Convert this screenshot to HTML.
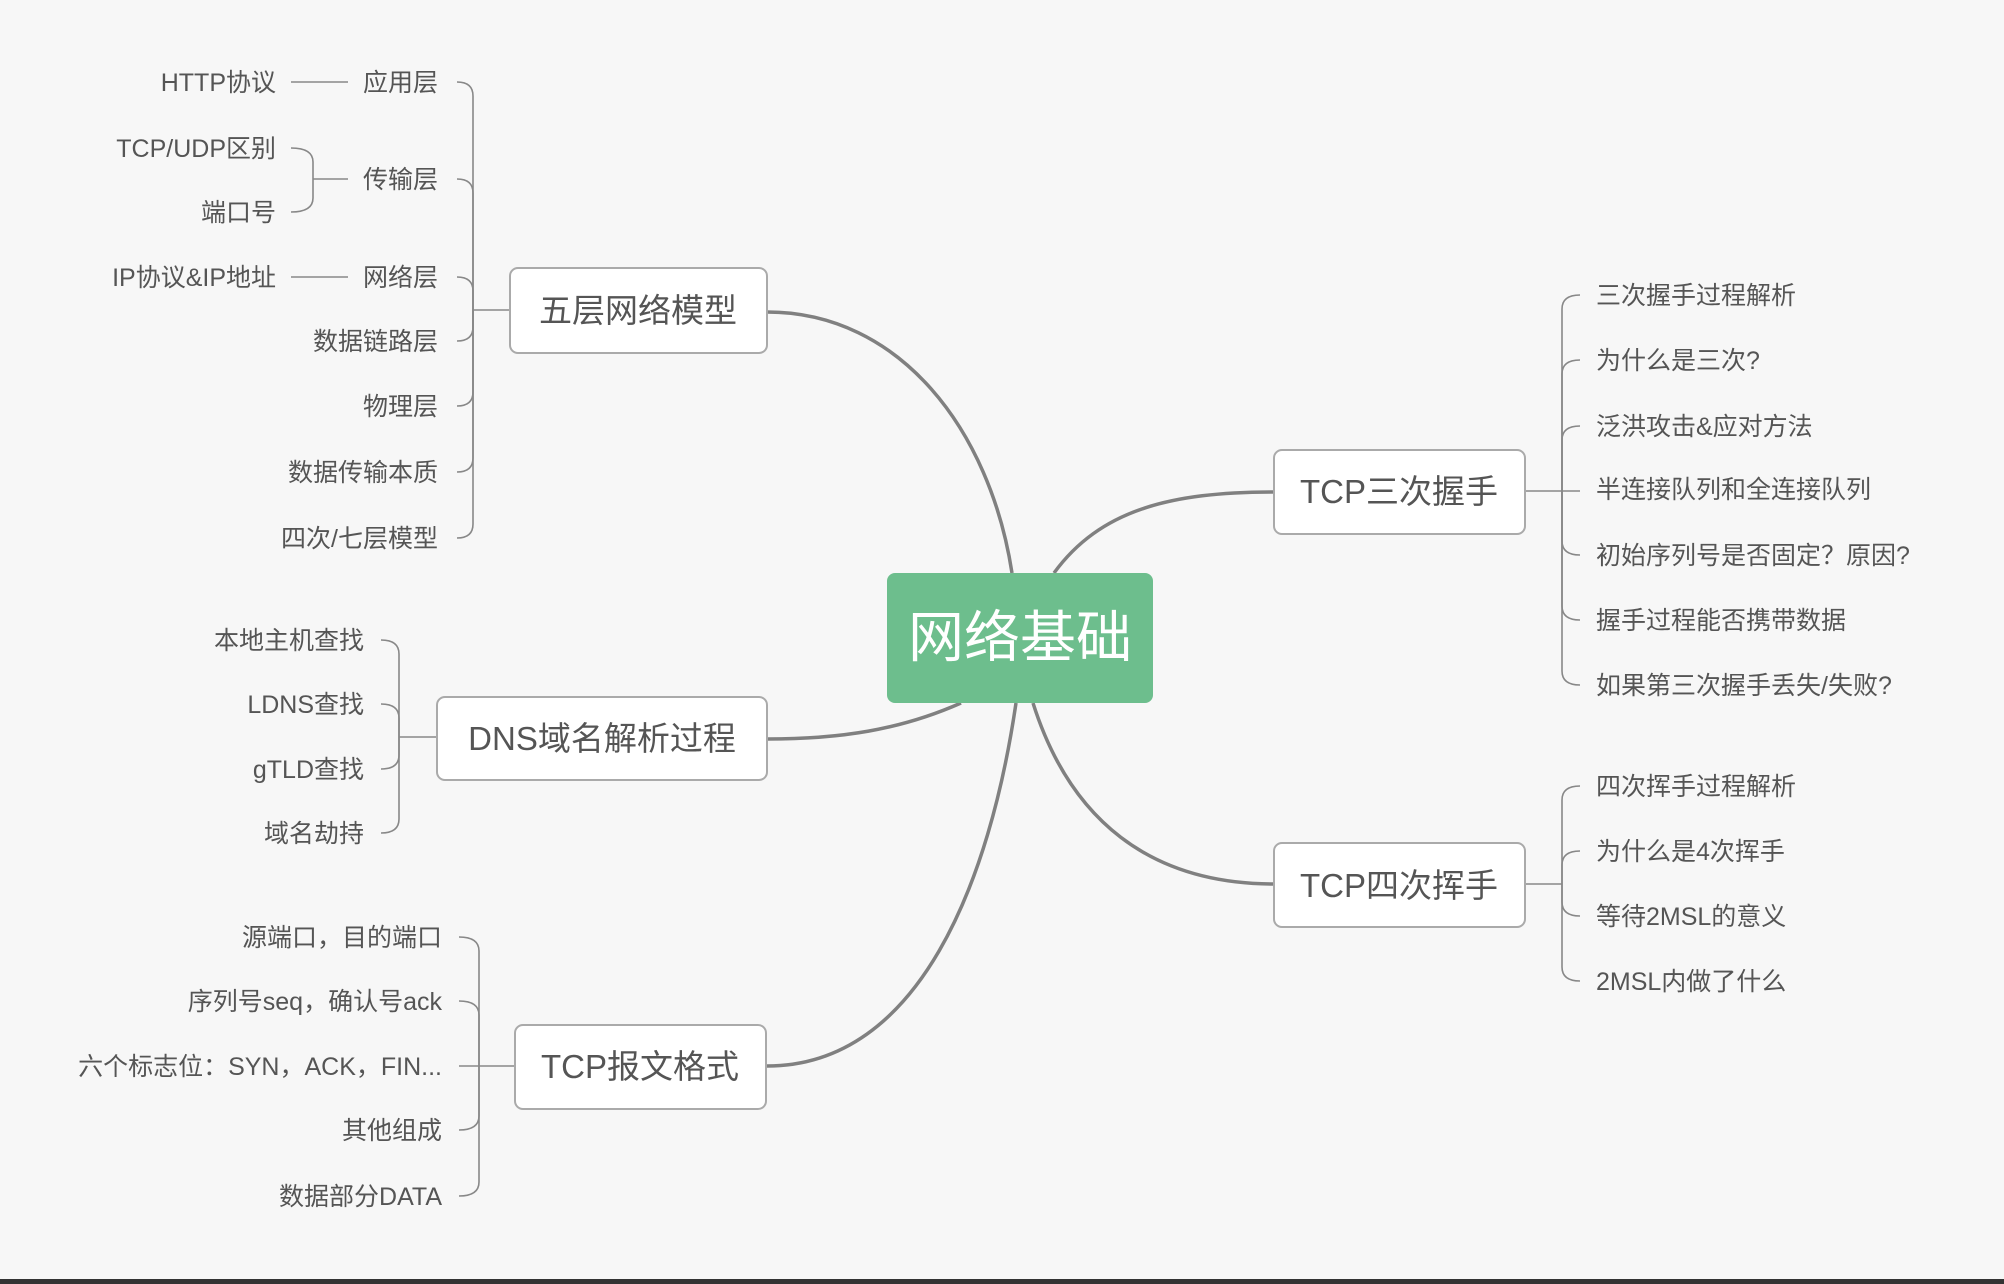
<!DOCTYPE html>
<html><head><meta charset="utf-8"><style>
html,body{margin:0;padding:0;background:#f7f7f7;}
svg{display:block}
text{font-family:"Liberation Sans","Noto Sans CJK SC",sans-serif;fill:#555;}
</style></head><body>
<svg width="2004" height="1284" viewBox="0 0 2004 1284" xmlns="http://www.w3.org/2000/svg">
<rect x="0" y="0" width="2004" height="1284" fill="#f7f7f7"/>
<rect x="0" y="1279" width="2004" height="5" fill="#333"/>
<g fill="none" stroke="#808080" stroke-width="3.5">
<path d="M1012 573 C990 430 900 312 767 312"/>
<path d="M1054 573 C1100 510 1170 492 1274 492"/>
<path d="M1033 703 C1070 820 1150 884 1274 884"/>
<path d="M961 703 C900 730 840 739 767 739"/>
<path d="M1016 703 C990 880 920 1066 767 1066"/>
</g>
<g fill="none" stroke="#888" stroke-width="1.6">
<!-- five layer -->
<path d="M510 310 H473"/>
<path d="M473 310 V96 Q473 82 457 82"/>
<path d="M473 310 V193 Q473 179 457 179"/>
<path d="M473 310 V291 Q473 277 457 277"/>
<path d="M473 310 V327 Q473 341 457 341"/>
<path d="M473 310 V392 Q473 406 457 406"/>
<path d="M473 310 V458 Q473 472 457 472"/>
<path d="M473 310 V524 Q473 538 457 538"/>
<path d="M291 82 H348"/>
<path d="M291 277 H348"/>
<path d="M348 179 H313"/>
<path d="M313 179 V162 Q313 148 291 148"/>
<path d="M313 179 V198 Q313 212 291 212"/>
<!-- DNS -->
<path d="M437 737 H399"/>
<path d="M399 737 V654 Q399 640 381 640"/>
<path d="M399 737 V718 Q399 704 381 704"/>
<path d="M399 737 V755 Q399 769 381 769"/>
<path d="M399 737 V819 Q399 833 381 833"/>
<!-- TCP报文 -->
<path d="M515 1066 H479"/>
<path d="M479 1066 V951 Q479 937 459 937"/>
<path d="M479 1066 V1015 Q479 1001 459 1001"/>
<path d="M479 1066 H459"/>
<path d="M479 1066 V1116 Q479 1130 459 1130"/>
<path d="M479 1066 V1182 Q479 1196 459 1196"/>
<!-- 三次 -->
<path d="M1525 491 H1562"/>
<path d="M1562 491 V309 Q1562 295 1580 295"/>
<path d="M1562 491 V374 Q1562 360 1580 360"/>
<path d="M1562 491 V440 Q1562 426 1580 426"/>
<path d="M1562 491 H1580"/>
<path d="M1562 491 V541 Q1562 555 1580 555"/>
<path d="M1562 491 V606 Q1562 620 1580 620"/>
<path d="M1562 491 V671 Q1562 685 1580 685"/>
<!-- 四次 -->
<path d="M1525 884 H1562"/>
<path d="M1562 884 V800 Q1562 786 1580 786"/>
<path d="M1562 884 V865 Q1562 851 1580 851"/>
<path d="M1562 884 V902 Q1562 916 1580 916"/>
<path d="M1562 884 V967 Q1562 981 1580 981"/>
</g>
<g fill="#fff" stroke="#aaa" stroke-width="2">
<rect x="510" y="268" width="257" height="85" rx="8"/>
<rect x="437" y="697" width="330" height="83" rx="8"/>
<rect x="515" y="1025" width="251" height="84" rx="8"/>
<rect x="1274" y="450" width="251" height="84" rx="8"/>
<rect x="1274" y="843" width="251" height="84" rx="8"/>
</g>
<rect x="887" y="573" width="266" height="130" rx="8" fill="#6dbe8d"/>
<text x="1020" y="657" text-anchor="middle" font-size="56" style="fill:#fff">网络基础</text>
<g font-size="33" text-anchor="middle">
<text x="638" y="322">五层网络模型</text>
<text x="602" y="750">DNS域名解析过程</text>
<text x="640" y="1078">TCP报文格式</text>
<text x="1399" y="503">TCP三次握手</text>
<text x="1399" y="897">TCP四次挥手</text>
</g>
<g font-size="25" text-anchor="end">
<text x="438" y="91">应用层</text>
<text x="438" y="188">传输层</text>
<text x="438" y="286">网络层</text>
<text x="438" y="350">数据链路层</text>
<text x="438" y="415">物理层</text>
<text x="438" y="481">数据传输本质</text>
<text x="438" y="547">四次/七层模型</text>
<text x="276" y="91">HTTP协议</text>
<text x="276" y="157">TCP/UDP区别</text>
<text x="276" y="221">端口号</text>
<text x="276" y="286">IP协议&amp;IP地址</text>
<text x="364" y="649">本地主机查找</text>
<text x="364" y="713">LDNS查找</text>
<text x="364" y="778">gTLD查找</text>
<text x="364" y="842">域名劫持</text>
<text x="442" y="946">源端口，目的端口</text>
<text x="442" y="1010">序列号seq，确认号ack</text>
<text x="442" y="1075">六个标志位：SYN，ACK，FIN...</text>
<text x="442" y="1139">其他组成</text>
<text x="442" y="1205">数据部分DATA</text>
</g>
<g font-size="25">
<text x="1596" y="304">三次握手过程解析</text>
<text x="1596" y="369">为什么是三次?</text>
<text x="1596" y="435">泛洪攻击&amp;应对方法</text>
<text x="1596" y="498">半连接队列和全连接队列</text>
<text x="1596" y="564">初始序列号是否固定？原因?</text>
<text x="1596" y="629">握手过程能否携带数据</text>
<text x="1596" y="694">如果第三次握手丢失/失败?</text>
<text x="1596" y="795">四次挥手过程解析</text>
<text x="1596" y="860">为什么是4次挥手</text>
<text x="1596" y="925">等待2MSL的意义</text>
<text x="1596" y="990">2MSL内做了什么</text>
</g>
</svg>
</body></html>
